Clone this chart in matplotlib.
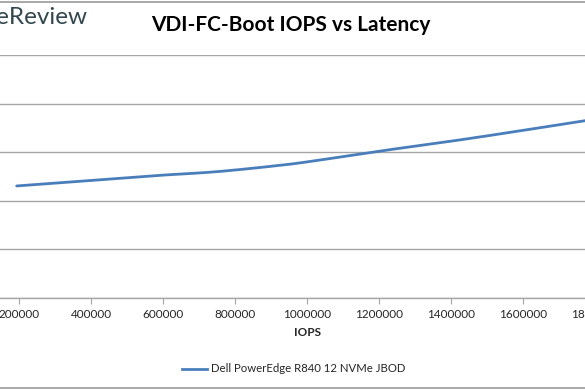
import matplotlib
matplotlib.use("Agg")
import matplotlib.pyplot as plt
from matplotlib.lines import Line2D
import numpy as np

plt.rcParams['font.family'] = ['Lato', 'DejaVu Sans']

# Data
iops = [193600, 563900, 749000, 933000, 1027000, 1119000, 1203000, 1453000, 1772000, 1850000]
latency_ms = [0.230, 0.2505, 0.2594, 0.2732, 0.2825, 0.2928, 0.302, 0.328, 0.3645, 0.374]
series_name = "Dell PowerEdge R840 12 NVMe JBOD"
x_ticks = list(range(0, 2000001, 200000))
y_ticks = [0, 0.1, 0.2, 0.3, 0.4, 0.5]
title = "VDI-FC-Boot IOPS vs Latency"

W, H = 585, 390
fig = plt.figure(figsize=(W / 100, H / 100), dpi=100)

# axes extends beyond the cropped canvas on left/right
x0_px, x1_px = -53, 667
ytop_px, ybot_px = 55, 297.5
ax = fig.add_axes([x0_px / W, (H - ybot_px) / H, (x1_px - x0_px) / W, (ybot_px - ytop_px) / H])
ax.set_xlim(0, 2000000)
ax.set_ylim(0, 0.5)

grid_c = '#a6a6a6'
ax.set_yticks(y_ticks)
ax.yaxis.grid(True, color=grid_c, linewidth=1.0)
ax.set_axisbelow(True)
for s in ['top', 'left', 'right']:
    ax.spines[s].set_visible(False)
ax.spines['bottom'].set_color(grid_c)
ax.spines['bottom'].set_linewidth(1.0)
ax.tick_params(axis='y', length=0, labelleft=False)
ax.set_xticks(x_ticks)
ax.set_xticklabels([str(v) for v in x_ticks])
ax.tick_params(axis='x', length=4, color=grid_c, labelsize=8.5, labelcolor='#262626', pad=4)


def smooth_line(xs, ys, sx, sy, n=30):
    """Catmull-Rom rendering of a line through the given points (Excel-style smoothed line)."""
    P = np.column_stack([np.asarray(xs) / sx, np.asarray(ys) / sy])
    P = np.vstack([2 * P[0] - P[1], P, 2 * P[-1] - P[-2]])
    out = []
    t = np.linspace(0, 1, n, endpoint=False)[:, None]
    for i in range(1, len(P) - 2):
        p0, p1, p2, p3 = P[i - 1], P[i], P[i + 1], P[i + 2]
        seg = 0.5 * ((2 * p1) + (-p0 + p2) * t + (2 * p0 - 5 * p1 + 4 * p2 - p3) * t ** 2
                     + (-p0 + 3 * p1 - 3 * p2 + p3) * t ** 3)
        out.append(seg)
    out.append(P[-2][None, :])
    out = np.vstack(out)
    return out[:, 0] * sx, out[:, 1] * sy


sx_, sy_ = smooth_line(iops, latency_ms, 2000000 / 720, 0.5 / 242.5)
ax.plot(sx_, sy_, color='#4a7ebb', linewidth=2.0, solid_capstyle='round')

ax.set_xlabel("IOPS", fontsize=8.5, fontweight='bold', color='#262626', labelpad=5)

fig.text(291 / W, 1 - 25 / H, title, ha='center', va='center', fontsize=15, fontweight='bold', color='#000000')

fig.text(87 / W, 1 - 18 / H, "StorageReview", ha='right', va='center', fontsize=17.5, color='#34474f')

# chart area border (cropped)
fig.add_artist(Line2D([0, 1], [1 - 1.5 / H, 1 - 1.5 / H], color='#9a9a9a', linewidth=1.2, transform=fig.transFigure))
fig.add_artist(Line2D([0, 1], [1 - 388 / H, 1 - 388 / H], color='#9a9a9a', linewidth=1.2, transform=fig.transFigure))

# legend
ly = 1 - 369 / H
fig.add_artist(Line2D([182 / W, 207 / W], [ly, ly], color='#4a7ebb', linewidth=2.0, transform=fig.transFigure))
fig.text(211 / W, ly, series_name, ha='left', va='center', fontsize=8.2, color='#262626')

fig.savefig("out.png", dpi=100)
